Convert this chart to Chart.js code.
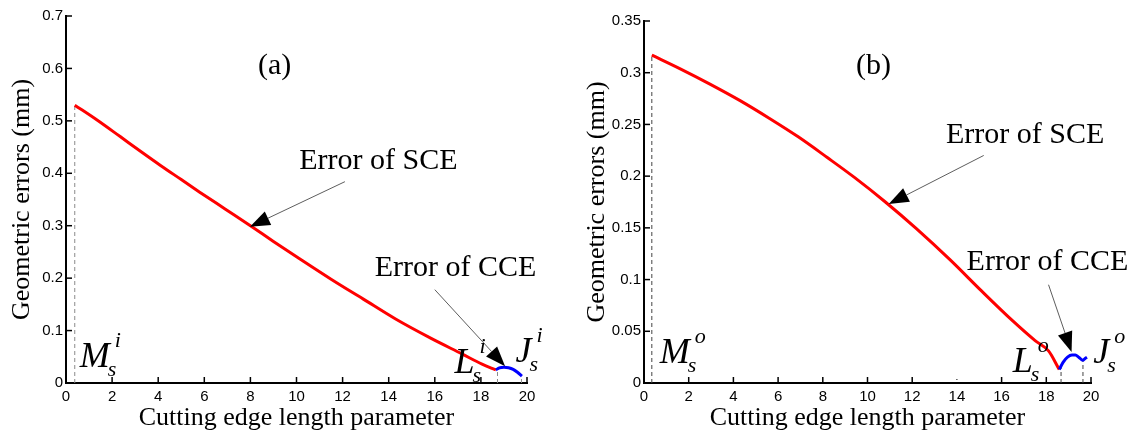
<!DOCTYPE html>
<html>
<head>
<meta charset="utf-8">
<script src="https://cdn.jsdelivr.net/npm/chart.js@4.4.0/dist/chart.umd.min.js"></script>
<style>
  body { margin: 0; background: #fff; width: 1145px; height: 439px; overflow: hidden; position: relative; }
  .box { position: absolute; top: 0; width: 570px; height: 439px; }
</style>
</head>
<body>
<div class="box" style="left:0"><canvas id="chartA" width="570" height="439"></canvas></div>
<div class="box" style="left:575px"><canvas id="chartB" width="570" height="439"></canvas></div>
<script>
// (a) inner edge
const sceXA = [0.38, 1.3, 2.35, 3.2, 4.1, 5.0, 5.8, 6.9, 8.0, 9.0, 10.1, 11.5, 12.9, 14.3, 15.8, 17.2, 18.05, 18.65];
const sceYA = [0.530, 0.503, 0.470, 0.443, 0.415, 0.388, 0.364, 0.332, 0.300, 0.270, 0.238, 0.198, 0.160, 0.122, 0.086, 0.055, 0.036, 0.025];
const cceXA = [18.65, 18.8, 19.0, 19.2, 19.4, 19.6, 19.78];
const cceYA = [0.025, 0.029, 0.030, 0.029, 0.026, 0.020, 0.013];
const markXA = [0.38, 18.72, 19.76];      // M, L, J dashed lines
const markYA = [0.530, 0.026, 0.014];

// (b) outer edge
const sceXB = [0.35, 1.6, 2.95, 4.3, 5.6, 6.9, 8.2, 9.4, 10.8, 12.2, 13.7, 15.1, 16.5, 17.5, 18.1, 18.58];
const sceYB = [0.317, 0.304, 0.289, 0.273, 0.256, 0.238, 0.218, 0.199, 0.175, 0.149, 0.119, 0.089, 0.060, 0.041, 0.031, 0.013];
const cceXB = [18.58, 18.75, 18.95, 19.15, 19.3, 19.45, 19.64, 19.75, 19.82];
const cceYB = [0.013, 0.020, 0.025, 0.027, 0.027, 0.025, 0.022, 0.024, 0.025];
const markXB = [0.35, 18.66, 19.64];
const markYB = [0.317, 0.016, 0.022];

const xTitle = "Cutting edge length parameter";
const yTitle = "Geometric errors (mm)";

const serif = "'Liberation Serif', 'DejaVu Serif', serif";
const sans = "'Liberation Sans', Arial, sans-serif";

function pts(xs, ys) {
  return xs.map((x, i) => ({ x: x, y: ys[i] }));
}

// inward ticks, arrows, texts and the M/L/J symbols
const overlay = {
  id: 'overlay',
  afterDatasetsDraw(chart, args, opts) {
    const { ctx, chartArea } = chart;
    const x = chart.scales.x, y = chart.scales.y;
    ctx.save();
    ctx.strokeStyle = '#000';
    ctx.fillStyle = '#000';
    ctx.lineWidth = 1.5;
    x.ticks.forEach(t => {
      const px = x.getPixelForValue(t.value);
      if ((opts.skipX || []).includes(t.value)) {
        ctx.fillRect(px - 0.5, chartArea.bottom - 4, 1, 1);
        return;
      }
      ctx.beginPath();
      ctx.moveTo(px, chartArea.bottom);
      ctx.lineTo(px, chartArea.bottom - 6);
      ctx.stroke();
    });
    y.ticks.forEach(t => {
      const py = y.getPixelForValue(t.value);
      ctx.beginPath();
      ctx.moveTo(chartArea.left, py);
      ctx.lineTo(chartArea.left + 6, py);
      ctx.stroke();
    });

    // arrows
    (opts.arrows || []).forEach(a => {
      const x0 = x.getPixelForValue(a.from[0]), y0 = y.getPixelForValue(a.from[1]);
      const x1 = x.getPixelForValue(a.to[0]), y1 = y.getPixelForValue(a.to[1]);
      const ang = Math.atan2(y1 - y0, x1 - x0);
      const len = 20, half = 7.5;
      const bx = x1 - len * Math.cos(ang), by = y1 - len * Math.sin(ang);
      ctx.strokeStyle = '#333';
      ctx.lineWidth = 0.8;
      ctx.beginPath();
      ctx.moveTo(x0, y0);
      ctx.lineTo(bx, by);
      ctx.stroke();
      ctx.fillStyle = '#000';
      ctx.beginPath();
      ctx.moveTo(x1, y1);
      ctx.lineTo(bx + half * Math.sin(ang), by - half * Math.cos(ang));
      ctx.lineTo(bx - half * Math.sin(ang), by + half * Math.cos(ang));
      ctx.closePath();
      ctx.fill();
    });

    // plain texts
    ctx.fillStyle = '#000';
    ctx.textAlign = 'center';
    ctx.textBaseline = 'middle';
    (opts.texts || []).forEach(t => {
      ctx.font = t.size + 'px ' + serif;
      ctx.fillText(t.text, x.getPixelForValue(t.at[0]), y.getPixelForValue(t.at[1]));
    });

    // symbols like M_s^i
    ctx.textAlign = 'left';
    ctx.textBaseline = 'alphabetic';
    (opts.symbols || []).forEach(s => {
      const px = x.getPixelForValue(s.at[0]), py = y.getPixelForValue(s.at[1]);
      ctx.font = 'italic 36px ' + serif;
      ctx.fillText(s.main, px, py);
      const w = ctx.measureText(s.main).width;
      ctx.font = 'italic 22px ' + serif;
      ctx.fillText('s', px + w - 2, py + 9);
      ctx.fillText(s.sup, px + w + 5, py - 20);
    });
    ctx.restore();
  }
};

function makeChart(id, d) {
  const dash = d.markX.map((mx, i) => ({
    data: [{ x: mx, y: 0 }, { x: mx, y: d.markY[i] }],
    borderColor: d.dashColor,
    borderWidth: 1,
    borderDash: [4, 3],
    pointRadius: 0,
    showLine: true,
    order: 3
  }));
  return new Chart(document.getElementById(id), {
    type: 'scatter',
    data: {
      datasets: [
        { data: pts(d.sceX, d.sceY), borderColor: '#ff0000', borderWidth: 3, pointRadius: 0, showLine: true, cubicInterpolationMode: 'monotone', order: 1 },
        { data: pts(d.cceX, d.cceY), borderColor: '#0000ff', borderWidth: 3, pointRadius: 0, showLine: true, cubicInterpolationMode: 'monotone', order: 0 }
      ].concat(dash)
    },
    options: {
      responsive: false,
      animation: false,
      layout: { padding: { top: d.padTop, right: d.padRight, left: 0, bottom: 0 } },
      plugins: {
        legend: { display: false },
        tooltip: { enabled: false },
        overlay: { arrows: d.arrows, texts: d.texts, symbols: d.symbols, skipX: d.skipX }
      },
      scales: {
        x: {
          type: 'linear',
          min: 0, max: 20,
          afterFit: s => { s.height = 56; },
          grid: { display: false, drawTicks: false },
          border: { display: true, color: '#000', width: 2 },
          ticks: { stepSize: 2, color: '#000', padding: 5, maxRotation: 0, font: { family: sans, size: 15 } },
          title: { display: true, text: xTitle, color: '#000', font: { family: serif, size: 26 }, padding: { top: 0, bottom: 5 } }
        },
        y: {
          type: 'linear',
          min: 0, max: d.yMax,
          afterFit: s => { s.width = d.axisWidth; },
          grid: { display: false, drawTicks: false },
          border: { display: true, color: '#000', width: 2 },
          ticks: {
            stepSize: d.yStep, color: '#000', padding: 3, font: { family: sans, size: 15 },
            callback: v => String(Number(v.toFixed(2)))
          },
          title: { display: true, text: yTitle, color: '#000', font: { family: serif, size: 26 }, padding: { top: 7, bottom: 0 } }
        }
      }
    },
    plugins: [overlay]
  });
}

makeChart('chartA', {
  sceX: sceXA, sceY: sceYA, cceX: cceXA, cceY: cceYA, markX: markXA, markY: markYA,
  dashColor: '#8a8a8a', yMax: 0.7, yStep: 0.1, axisWidth: 66, padTop: 16, padRight: 43,
  texts: [
    { text: '(a)', at: [9.05, 0.605], size: 30 },
    { text: 'Error of SCE', at: [13.55, 0.424], size: 30 },
    { text: 'Error of CCE', at: [16.9, 0.219], size: 30 }
  ],
  arrows: [
    { from: [12.1, 0.384], to: [7.98, 0.298] },
    { from: [16.0, 0.178], to: [19.05, 0.032] }
  ],
  symbols: [
    { main: 'M', sup: 'i', at: [0.6, 0.031] },
    { main: 'L', sup: 'i', at: [16.85, 0.019] },
    { main: 'J', sup: 'i', at: [19.5, 0.040] }
  ]
});

makeChart('chartB', {
  sceX: sceXB, sceY: sceYB, cceX: cceXB, cceY: cceYB, markX: markXB, markY: markYB,
  dashColor: '#444', yMax: 0.35, yStep: 0.05, axisWidth: 69, padTop: 21, padRight: 54,
  skipX: [14],
  texts: [
    { text: '(b)', at: [10.27, 0.306], size: 30 },
    { text: 'Error of SCE', at: [17.05, 0.240], size: 30 },
    { text: 'Error of CCE', at: [18.05, 0.117], size: 30 }
  ],
  arrows: [
    { from: [15.2, 0.220], to: [10.95, 0.173] },
    { from: [18.1, 0.095], to: [19.13, 0.030] }
  ],
  symbols: [
    { main: 'M', sup: 'o', at: [0.7, 0.019] },
    { main: 'L', sup: 'o', at: [16.5, 0.011] },
    { main: 'J', sup: 'o', at: [20.1, 0.019] }
  ]
});
</script>
</body>
</html>
